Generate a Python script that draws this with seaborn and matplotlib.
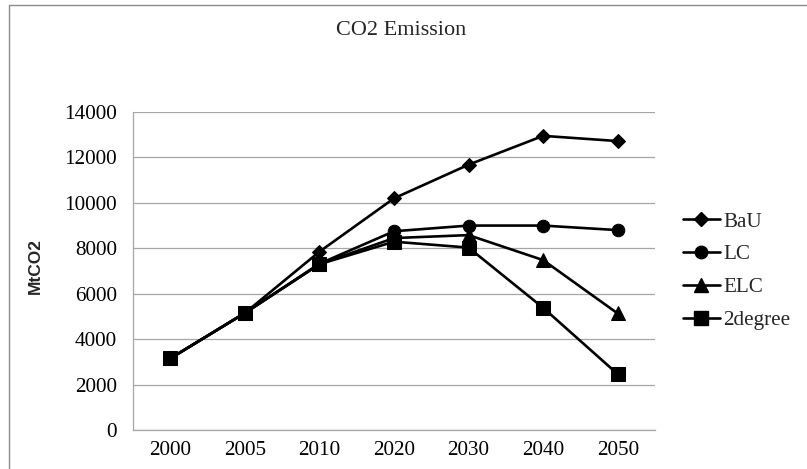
import matplotlib
matplotlib.use("Agg")
import matplotlib.pyplot as plt
import seaborn as sns
import pandas as pd
from matplotlib.lines import Line2D

years = ["2000", "2005", "2010", "2020", "2030", "2040", "2050"]
bau = [3150, 5150, 7850, 10200, 11680, 12950, 12720]
lc = [3150, 5150, 7320, 8750, 9000, 9000, 8800]
elc = [3150, 5150, 7300, 8450, 8580, 7480, 5130]
two_degree = [3150, 5150, 7300, 8290, 8030, 5380, 2460]
series_names = ["BaU", "LC", "ELC", "2degree"]
y_ticks = [0, 2000, 4000, 6000, 8000, 10000, 12000, 14000]

rows = []
for name, vals in zip(series_names, [bau, lc, elc, two_degree]):
    for yr, v in zip(years, vals):
        rows.append({"year": yr, "value": v, "scenario": name})
df = pd.DataFrame(rows)

sns.set_style("white")
serif = ["Liberation Serif", "DejaVu Serif"]
plt.rcParams["font.family"] = serif

fig = plt.figure(figsize=(8.07, 4.69), dpi=100)
ax = fig.add_axes([133 / 807, 39 / 469, 522 / 807, 318 / 469])

markers = {"BaU": "D", "LC": "o", "ELC": "^", "2degree": "s"}
msize = {"BaU": 7.5, "LC": 9, "ELC": 9.5, "2degree": 9.5}
sns.lineplot(data=df, x="year", y="value", hue="scenario", style="scenario",
             markers=markers, dashes=False, palette=["black"] * 4,
             hue_order=series_names, style_order=series_names,
             linewidth=1.9, markersize=9, markeredgecolor="black",
             sort=False, ax=ax, legend=False)
for line, name in zip(ax.lines, series_names):
    line.set_markersize(msize[name])

ax.set_xlim(-0.5, 6.5)
ax.set_ylim(0, 14000)
ax.set_yticks(y_ticks)
ax.set_yticklabels([str(t) for t in y_ticks])
ax.grid(axis="y", color="#a6a6a6", linewidth=0.9)
ax.grid(axis="x", visible=False)
ax.set_axisbelow(True)
for s in ["top", "right"]:
    ax.spines[s].set_visible(False)
for s in ["left", "bottom"]:
    ax.spines[s].set_color("#a6a6a6")
    ax.spines[s].set_linewidth(0.9)
ax.tick_params(axis="both", length=0, labelsize=15.2, colors="black")
ax.tick_params(axis="y", pad=11.5)
ax.tick_params(axis="x", pad=8)
ax.set_xlabel("")
ax.set_ylabel("MtCO2", fontsize=12.5, fontweight="bold",
              family=["Liberation Sans", "DejaVu Sans"])
ax.yaxis.set_label_coords(-0.172, 0.515)

fig.text(0.497, 0.936, "CO2 Emission", ha="center", va="center", fontsize=16)

handles = [Line2D([], [], color="black", linewidth=1.9, marker=markers[n],
                  markersize=msize[n], markeredgecolor="black") for n in series_names]
fig.legend(handles, series_names, loc="center left",
           bbox_to_anchor=(664 / 807, 1 - 271 / 469), frameon=False,
           fontsize=15.2, handlelength=1.75, handletextpad=0.15,
           labelspacing=0.62, borderpad=0.4)

# chart area border
fig.add_artist(Line2D([9 / 807, 9 / 807], [0, 1 - 5 / 469], color="#8c8c8c", linewidth=1.0,
                      transform=fig.transFigure))
fig.add_artist(Line2D([9 / 807, 1], [1 - 5 / 469, 1 - 5 / 469], color="#8c8c8c", linewidth=1.0,
                      transform=fig.transFigure))

fig.savefig("out.png", dpi=100, facecolor="white")
